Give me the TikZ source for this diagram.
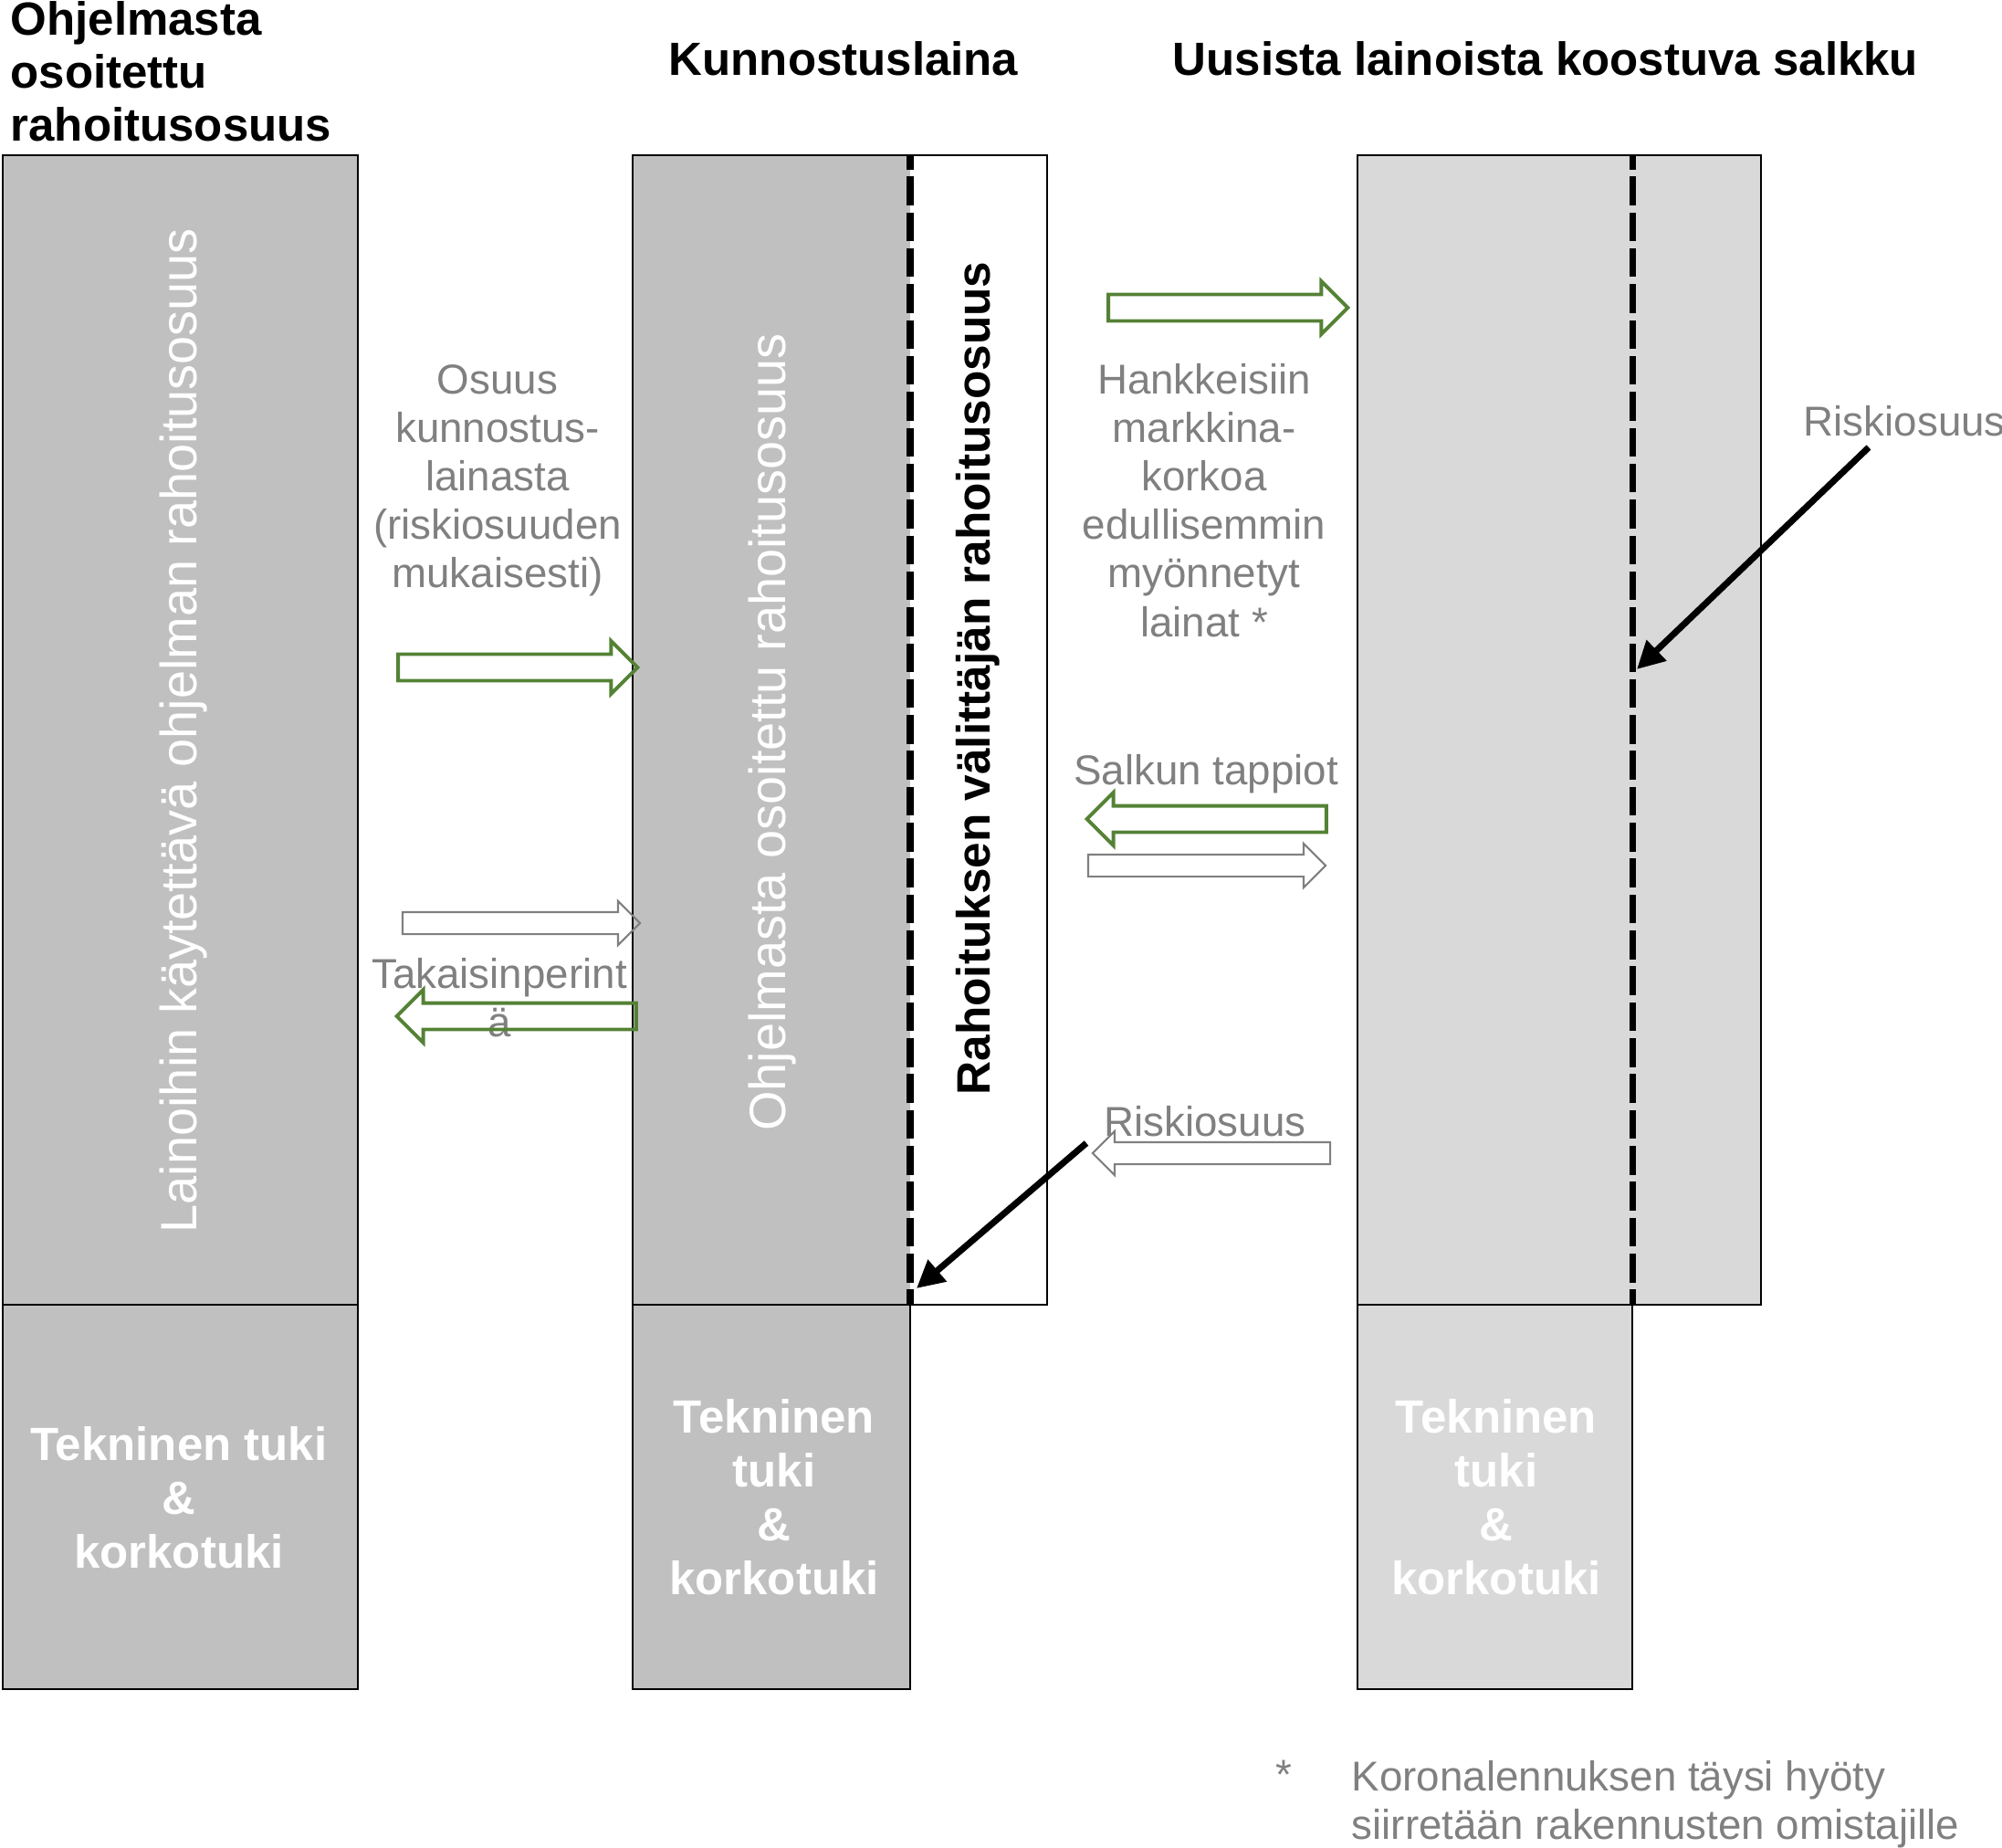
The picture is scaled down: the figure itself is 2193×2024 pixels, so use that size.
\documentclass[tikz,border=0pt]{standalone}
\usepackage{fontspec}
\setmainfont{Liberation Sans}
\usetikzlibrary{shapes.arrows,arrows.meta}

\definecolor{flowgreen}{RGB}{84,130,53}
\definecolor{labelgray}{RGB}{128,128,128}
\definecolor{darkfill}{RGB}{192,192,192}
\definecolor{lightfill}{RGB}{217,217,217}

\begin{document}
\begin{tikzpicture}[x=0.01cm, y=-0.01cm,
    every node/.style={inner sep=0pt},
    box/.style={draw=black, line width=0.75pt},
    divider/.style={line width=2pt, dash pattern=on 0.315cm off 0.078cm, dash phase=0.16cm},
    heading/.style={font=\fontsize{14.5}{16.5}\selectfont\bfseries, align=center},
    flowtext/.style={font=\fontsize{13}{15.1}\selectfont, text=labelgray, align=center},
    support/.style={font=\fontsize{14.5}{16.8}\selectfont\bfseries, text=white, align=center},
    greenflow/.style={single arrow, draw=flowgreen, line width=1.1pt, inner xsep=0pt, inner ysep=0.125cm,
      single arrow head extend=0.145cm, minimum height=2.62cm},
    grayflow/.style={single arrow, draw=labelgray, line width=0.6pt, inner xsep=0pt, inner ysep=0.11cm,
      single arrow head extend=0.12cm, minimum height=2.6cm},
    pointer/.style={line width=2pt, -{Triangle[length=0.3cm, width=0.3cm]}}]

  \useasboundingbox (0,0) rectangle (2193,2024);

  \draw[box, fill=darkfill] (3,170) rectangle (392,1429);
  \draw[box, fill=darkfill] (3,1429) rectangle (392,1850);

  \fill[darkfill] (693,170) rectangle (997,1429);
  \draw[box] (693,170) rectangle (1147,1429);
  \draw[box, fill=darkfill] (693,1429) rectangle (997,1850);
  \draw[divider] (997,170)--(997,1429);

  \draw[box, fill=lightfill] (1487,170) rectangle (1929,1429);
  \draw[box, fill=lightfill] (1487,1429) rectangle (1788,1850);
  \draw[divider] (1788,170)--(1788,1429);

  \node[heading, align=left, anchor=west] (progshare) at (11,78) {Ohjelmasta\\osoitettu\\rahoitusosuus};
  \node[heading] (renoloan) at (924,64) {Kunnostuslaina};
  \node[heading] (portfolio) at (1693,64) {Uusista lainoista koostuva salkku};

  \node[rotate=90, text=white, font=\fontsize{15.9}{18}\selectfont] (loanuse) at (201,800) {Lainoihin käytettävä ohjelman rahoitusosuus};
  \node[rotate=90, text=white, font=\fontsize{15.9}{18}\selectfont] (progpart) at (846,802) {Ohjelmasta osoitettu rahoitusosuus};
  \node[rotate=90, font=\fontsize{14.6}{17}\selectfont\bfseries] (brokerpart) at (1071,743) {Rahoituksen välittäjän rahoitusosuus};

  \node[support] (techL) at (196,1640) {Tekninen tuki\\\&\\korkotuki};
  \node[support] (techM) at (848,1640) {Tekninen\\tuki\\\&\\korkotuki};
  \node[support] (techR) at (1639,1640) {Tekninen\\tuki\\\&\\korkotuki};

  \node[flowtext] (sharetxt) at (545,526) {Osuus\\kunnostus-\\lainasta\\(riskiosuuden\\mukaisesti)};
  \node[flowtext] (recovtxt) at (547,1093) {Takaisinperint\\ä};
  \node[flowtext] (loanstxt) at (1319,548) {Hankkeisiin\\markkina-\\korkoa\\edullisemmin\\myönnetyt\\lainat *};
  \node[flowtext] (losstxt) at (1321,848) {Salkun tappiot};
  \node[flowtext] (risktxtA) at (1320,1228) {Riskiosuus};
  \node[flowtext, anchor=west] (risktxtB) at (1975,461) {Riskiosuus};

  \node[flowtext, anchor=base] (star) at (1406,1959) {*};
  \node[flowtext, align=left, anchor=west] (footnote) at (1480,1976) {Koronalennuksen täysi hyöty\\siirretään rakennusten omistajille};

  \node[greenflow] (toportf) at (1338,337) {};
  \node[greenflow] (toloan) at (560,731) {};
  \node[grayflow] (recovin) at (565,1011) {};
  \node[greenflow, shape border rotate=180] (recovout) at (573,1113) {};
  \node[greenflow, shape border rotate=180] (lossback) at (1329,897) {};
  \node[grayflow] (lossout) at (1316,948) {};
  \node[grayflow, shape border rotate=180] (riskback) at (1333,1263) {};

  \coordinate (riskfromA) at (2047,490);
  \coordinate (risktoA) at (1793,733);
  \draw[pointer] (riskfromA)--(risktoA);
  \coordinate (riskfromB) at (1190,1252);
  \coordinate (risktoB) at (1004,1411);
  \draw[pointer] (riskfromB)--(risktoB);
\end{tikzpicture}
\end{document}
